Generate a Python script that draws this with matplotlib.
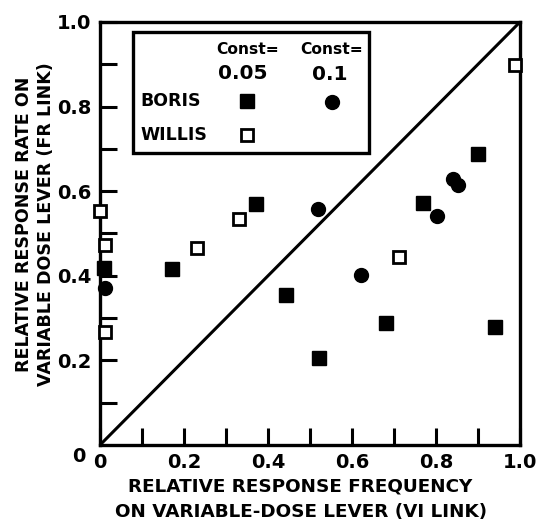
import matplotlib
matplotlib.use("Agg")
import matplotlib.pyplot as plt

plt.rcParams['font.family'] = ['DejaVu Sans']

# Boris, Const = 0.05 (filled squares)
boris_sq_x = [0.01, 0.171, 0.371, 0.443, 0.522, 0.682, 0.770, 0.899, 0.940]
boris_sq_y = [0.418, 0.415, 0.570, 0.355, 0.205, 0.289, 0.571, 0.687, 0.278]
# Boris, Const = 0.1 (filled circles)
boris_ci_x = [0.012, 0.520, 0.621, 0.802, 0.841, 0.853]
boris_ci_y = [0.372, 0.557, 0.402, 0.541, 0.630, 0.615]
# Willis, Const = 0.05 (open squares)
willis_x = [0.0, 0.012, 0.012, 0.232, 0.332, 0.713, 0.988]
willis_y = [0.554, 0.473, 0.268, 0.465, 0.534, 0.445, 0.898]

xticks = [0, 0.2, 0.4, 0.6, 0.8, 1.0]
xticklabels = ['0', '0.2', '0.4', '0.6', '0.8', '1.0']
yticks = [0.2, 0.4, 0.6, 0.8, 1.0]
yticklabels = ['0.2', '0.4', '0.6', '0.8', '1.0']

fig = plt.figure(figsize=(5.38, 5.26), dpi=100)
ax = fig.add_axes([100/538, 81/526, 420/538, 423/526])
ax.set_xlim(0, 1)
ax.set_ylim(0, 1)

for s in ax.spines.values():
    s.set_linewidth(2.4)
    s.set_zorder(2)

ax.plot([0, 1], [0, 1], color='black', lw=2.2, zorder=1)

ax.plot(boris_sq_x, boris_sq_y, 's', color='black', ms=9.5, ls='none',
        clip_on=False, zorder=5)
ax.plot(boris_ci_x, boris_ci_y, 'o', color='black', ms=10, ls='none',
        clip_on=False, zorder=5)
ax.plot(willis_x, willis_y, 's', mfc='white', mec='black', mew=2.0, ms=8,
        ls='none', clip_on=False, zorder=5)

# ticks (marks every 0.1, labels every 0.2)
minor = [i / 10 for i in range(1, 10) if i % 2 == 1]
ax.set_xticks(minor, minor=True)
ax.set_yticks(minor, minor=True)
ax.set_xticks(xticks)
ax.set_yticks(yticks)
ax.tick_params(which='both', direction='in', length=12, width=2.2,
               top=False, right=False)
ax.set_xticklabels(xticklabels, fontsize=14, fontweight='bold')
ax.set_yticklabels(yticklabels, fontsize=14, fontweight='bold')
ax.tick_params(axis='x', which='major', pad=6)
ax.tick_params(axis='y', which='major', pad=6)
ax.text(-0.035, -0.028, '0', transform=ax.transAxes, fontsize=14,
        fontweight='bold', ha='right', va='center')

# axis labels
fig.text(300/538, 1 - 487/526, 'RELATIVE RESPONSE FREQUENCY', fontsize=13.2,
         fontweight='bold', ha='center', va='center')
fig.text(301/538, 1 - 512/526, 'ON VARIABLE-DOSE LEVER (VI LINK)', fontsize=13.2,
         fontweight='bold', ha='center', va='center')
fig.text(24/538, 1 - 224/526, 'RELATIVE RESPONSE RATE ON', fontsize=12.6,
         fontweight='bold', ha='center', va='center', rotation=90)
fig.text(46/538, 1 - 224/526, 'VARIABLE DOSE LEVER (FR LINK)', fontsize=12.6,
         fontweight='bold', ha='center', va='center', rotation=90)

# legend box
def fx(px):
    return (px - 100) / 420
def fy(py):
    return (445 - py) / 423

rect = plt.Rectangle((fx(133), fy(152.7)), fx(369.3) - fx(133),
                     fy(32.3) - fy(152.7), transform=ax.transAxes,
                     fill=True, facecolor='white', edgecolor='black', lw=2.4,
                     zorder=6)
ax.add_patch(rect)
tkw = dict(transform=ax.transAxes, fontweight='bold', zorder=7,
           va='center')
ax.text(fx(248), fy(50), 'Const=', fontsize=11.2, ha='center', **tkw)
ax.text(fx(243), fy(73.5), '0.05', fontsize=14.5, ha='center', **tkw)
ax.text(fx(332), fy(50), 'Const=', fontsize=11.2, ha='center', **tkw)
ax.text(fx(330), fy(75), '0.1', fontsize=14.5, ha='center', **tkw)
ax.text(fx(140), fy(101.5), 'BORIS', fontsize=12.5, ha='left', **tkw)
ax.text(fx(140), fy(135), 'WILLIS', fontsize=12.5, ha='left', **tkw)
ax.plot([fx(247.3)], [fy(100.7)], 's', color='black', ms=9.5,
        transform=ax.transAxes, zorder=7)
ax.plot([fx(331.7)], [fy(101.7)], 'o', color='black', ms=10,
        transform=ax.transAxes, zorder=7)
ax.plot([fx(247.3)], [fy(135)], 's', mfc='white', mec='black', mew=2.0, ms=8,
        transform=ax.transAxes, zorder=7)

fig.savefig('out.png', dpi=100)
